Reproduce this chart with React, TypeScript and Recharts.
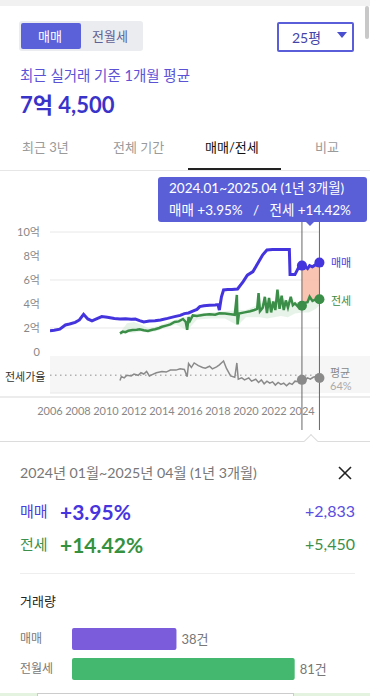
import React from 'react';
import {
  ComposedChart,
  Line,
  Area,
  XAxis,
  YAxis,
  CartesianGrid,
  ReferenceLine,
  ReferenceDot,
  BarChart,
  Bar,
  Cell,
  LabelList,
} from 'recharts';

const FONT = "Lato, 'Noto Sans CJK KR', sans-serif";

// 매매 (sale) price, 억
const saleYears = [
  2006.0, 2006.3, 2006.7, 2007.1, 2007.4, 2007.8, 2008.1, 2008.4, 2008.7, 2009.0,
  2009.4, 2009.7, 2010.1, 2010.6, 2011.0, 2011.4, 2011.8, 2012.1, 2012.4, 2012.7,
  2013.1, 2013.5, 2013.9, 2014.4, 2014.9, 2015.3, 2015.6, 2015.9, 2016.2, 2016.5,
  2016.7, 2017.0, 2017.4, 2017.8, 2018.0, 2018.1, 2018.25, 2018.4, 2018.7, 2019.0,
  2019.4, 2019.8, 2020.1, 2020.5, 2020.9, 2021.2, 2021.5, 2021.9, 2022.5, 2023.1,
  2023.15, 2023.5, 2023.85, 2024.0, 2024.2, 2024.4, 2024.55, 2024.75, 2025.0, 2025.25,
];
const saleValues = [
  1.78, 1.82, 1.9, 2.25, 2.33, 2.47, 2.67, 3.14, 2.75, 2.6,
  2.8, 2.95, 2.9, 2.8, 2.75, 2.78, 2.72, 2.75, 2.62, 2.5,
  2.58, 2.6, 2.67, 2.8, 2.95, 3.05, 3.2, 3.25, 3.4, 3.55,
  3.78, 3.85, 3.9, 3.92, 3.95, 3.5, 4.6, 5.17, 5.2, 5.2,
  5.25, 5.86, 6.4, 6.7, 7.5, 8.1, 8.5, 8.55, 8.55, 8.55,
  6.45, 6.45, 7.25, 7.2, 7.15, 6.95, 7.2, 7.1, 7.3, 7.45,
];

// 전세 (jeonse) price, 억
const rentYears = [
  2011.0, 2011.2, 2011.4, 2011.6, 2011.9, 2012.2, 2012.4, 2012.7, 2013.0, 2013.3,
  2013.5, 2013.8, 2014.0, 2014.3, 2014.6, 2014.9, 2015.2, 2015.5, 2015.7, 2015.8,
  2015.9, 2016.0, 2016.2, 2016.5, 2016.7, 2017.0, 2017.4, 2017.8, 2018.1, 2018.5,
  2018.9, 2019.2, 2019.35, 2019.4, 2019.5, 2019.9, 2020.3, 2020.6, 2020.8, 2020.9,
  2021.0, 2021.2, 2021.35, 2021.5, 2021.65, 2021.8, 2021.95, 2022.1, 2022.25, 2022.4,
  2022.55, 2022.7, 2022.85, 2023.0, 2023.2, 2023.35, 2023.5, 2023.7, 2023.85, 2024.0,
  2024.2, 2024.4, 2024.55, 2024.75, 2025.0, 2025.25,
];
const rentValues = [
  1.55, 1.7, 1.65, 1.78, 1.83, 1.85, 1.9, 1.82, 1.75, 1.85,
  1.9, 2.0, 2.1, 2.2, 2.3, 2.5, 2.55, 2.75, 2.5, 1.85,
  2.9, 2.6, 3.05, 3.0, 3.05, 3.1, 3.15, 3.1, 3.22, 3.2,
  3.15, 3.1, 4.75, 2.3, 3.2, 3.3, 3.4, 3.5, 3.6, 4.9,
  3.4, 3.7, 4.6, 3.25, 4.5, 3.3, 4.2, 3.5, 5.2, 3.6,
  4.7, 3.5, 4.3, 3.7, 4.6, 3.9, 4.05, 3.8, 3.75, 3.85,
  4.1, 4.15, 4.6, 4.25, 4.4, 4.4,
];

// light band of individual 전세 deals
const bandYears = [
  2011.0, 2011.5, 2012.0, 2012.5, 2013.0, 2013.5, 2014.0, 2015.0, 2015.8, 2016.5,
  2017.5, 2018.5, 2019.4, 2020.0, 2021.0, 2021.5, 2022.0, 2022.5, 2023.0, 2023.5,
  2024.0, 2024.5, 2025.0, 2025.25,
];
const bandLow = [
  1.4, 1.6, 1.6, 1.7, 1.6, 1.7, 1.9, 2.3, 1.8, 2.7,
  2.8, 2.8, 2.2, 2.9, 2.9, 2.8, 2.9, 3.0, 2.9, 3.2,
  3.3, 3.3, 3.6, 3.9,
];
const bandHigh = [
  1.6, 2.4, 2.5, 2.3, 2.0, 2.1, 2.3, 2.7, 3.0, 3.2,
  3.3, 3.4, 3.5, 3.5, 4.0, 4.2, 4.3, 4.6, 4.2, 4.2,
  4.1, 4.4, 4.6, 4.5,
];

// 전세가율 (%)
const ratioYears = [
  2011.0, 2011.1, 2011.3, 2011.5, 2011.8, 2012.0, 2012.3, 2012.5, 2012.7, 2012.9,
  2013.1, 2013.3, 2013.6, 2014.0, 2014.3, 2014.6, 2015.0, 2015.3, 2015.6, 2015.8,
  2015.9, 2016.1, 2016.3, 2016.6, 2016.9, 2017.1, 2017.4, 2017.6, 2017.9, 2018.1,
  2018.3, 2018.4, 2018.6, 2018.9, 2019.2, 2019.35, 2019.45, 2019.7, 2019.9, 2020.2,
  2020.4, 2020.7, 2020.9, 2021.1, 2021.3, 2021.5, 2021.7, 2021.9, 2022.1, 2022.3,
  2022.5, 2022.7, 2022.9, 2023.1, 2023.3, 2023.5, 2023.8, 2024.0, 2024.2, 2024.4,
  2024.6, 2024.8, 2025.0, 2025.25,
];
const ratioValues = [
  56, 62, 60, 64, 63, 66, 64, 68, 66, 70,
  63, 65, 68, 70, 69, 72, 72, 74, 73, 62,
  82, 76, 83, 79, 76, 75, 78, 74, 77, 80,
  84, 86, 75, 63, 61, 83, 58, 60, 57, 60,
  55, 58, 53, 57, 51, 55, 52, 54, 49, 53,
  50, 52, 48, 52, 50, 55, 54, 57, 56, 60,
  58, 61, 62, 60,
];
const ratioAverage = 64;

const yearTicks = [2006, 2008, 2010, 2012, 2014, 2016, 2018, 2020, 2022, 2024];
const priceTicks = [0, 2, 4, 6, 8, 10];
const rangeStart = 2024.0;
const rangeEnd = 2025.25;

const volumeLabels = ['매매', '전월세'];
const volumeCounts = [38, 81];
const volumeColors = ['#7b5cdb', '#45b86f'];

const SALE = '#4434de';
const RENT = '#3b8e47';
const RATIO = '#8a8a8a';

const saleData = saleYears.map((x, i) => ({ x, v: saleValues[i] }));
const rentData = rentYears.map((x, i) => ({ x, v: rentValues[i] }));
const bandData = bandYears.map((x, i) => ({ x, v: [bandLow[i], bandHigh[i]] }));
const ratioData = ratioYears.map((x, i) => ({ x, v: ratioValues[i] }));
const gapData = saleYears
  .map((x, i) => ({ x, sale: saleValues[i], rent: rentValues[rentYears.indexOf(x)] }))
  .filter((d) => d.x >= rangeStart && d.x <= rangeEnd && d.rent !== undefined)
  .map((d) => ({ x: d.x, v: [d.rent, d.sale] }));
const volumeData = volumeLabels.map((name, i) => ({ name, count: volumeCounts[i] }));

const at = (xs: number[], vs: number[], x: number) => vs[xs.indexOf(x)];

function Txt({ x, y, size, color, weight, children, right }: any) {
  return (
    <div
      style={{
        position: 'absolute',
        top: y - size / 2,
        ...(right !== undefined ? { right } : { left: x }),
        fontSize: size,
        lineHeight: `${size}px`,
        color,
        fontWeight: weight || 400,
        whiteSpace: 'pre',
        fontFamily: FONT,
      }}
    >
      {children}
    </div>
  );
}

function PriceChart() {
  return (
    <ComposedChart width={370} height={222} margin={{ top: 20, right: 50, bottom: 0, left: 0 }}>
      <CartesianGrid yAxisId="p" vertical={false} stroke="#e8e8e8" />
      <XAxis
        type="number"
        dataKey="x"
        domain={[2006, 2025.29]}
        ticks={yearTicks}
        interval={0}
        allowDataOverflow
        axisLine={false}
        tickLine={false}
        tickMargin={8}
        height={41}
        tick={{ fontSize: 11, fill: '#888', fontFamily: FONT }}
      />
      <YAxis
        yAxisId="p"
        domain={[-3.4167, 10]}
        ticks={priceTicks}
        allowDataOverflow
        axisLine={false}
        tickLine={false}
        tickMargin={4}
        width={50}
        tick={{ fontSize: 11, fill: '#888', fontFamily: FONT }}
        tickFormatter={(v: number) => (v === 0 ? '0' : `${v}억`)}
      />
      <YAxis yAxisId="r" hide domain={[36.8, 284.5]} allowDataOverflow />

      <Area yAxisId="p" data={bandData} dataKey="v" type="linear" stroke="none" fill="#cfe8d4" fillOpacity={0.5} isAnimationActive={false} />
      <Area yAxisId="p" data={gapData} dataKey="v" type="linear" stroke="none" fill="#f8bea8" fillOpacity={0.9} isAnimationActive={false} />
      <ReferenceLine yAxisId="r" y={ratioAverage} stroke="#b0b0b0" strokeWidth={1.5} strokeDasharray="1.5 3.5" />
      <Line yAxisId="r" data={ratioData} dataKey="v" type="linear" stroke={RATIO} strokeWidth={1.5} dot={false} isAnimationActive={false} />
      <Line yAxisId="p" data={rentData} dataKey="v" type="linear" stroke={RENT} strokeWidth={2.5} dot={false} isAnimationActive={false} />
      <Line yAxisId="p" data={saleData} dataKey="v" type="linear" stroke={SALE} strokeWidth={3} dot={false} isAnimationActive={false} />

      <ReferenceLine yAxisId="p" segment={[{ x: rangeStart, y: 10.92 }, { x: rangeStart, y: -6.5 }]} stroke="#666" strokeWidth={1} ifOverflow="visible" />
      <ReferenceLine yAxisId="p" segment={[{ x: rangeEnd, y: 10.92 }, { x: rangeEnd, y: -6.5 }]} stroke="#666" strokeWidth={1} ifOverflow="visible" />

      <ReferenceDot yAxisId="p" x={rangeStart} y={at(saleYears, saleValues, rangeStart)} r={5} fill={SALE} stroke="none" />
      <ReferenceDot yAxisId="p" x={rangeEnd} y={at(saleYears, saleValues, rangeEnd)} r={5} fill={SALE} stroke="none" />
      <ReferenceDot yAxisId="p" x={rangeStart} y={at(rentYears, rentValues, rangeStart)} r={5} fill={RENT} stroke="none" />
      <ReferenceDot yAxisId="p" x={rangeEnd} y={at(rentYears, rentValues, rangeEnd)} r={5} fill={RENT} stroke="none" />
      <ReferenceDot yAxisId="r" x={rangeStart} y={at(ratioYears, ratioValues, rangeStart)} r={5} fill={RATIO} stroke="none" />
      <ReferenceDot yAxisId="r" x={rangeEnd} y={at(ratioYears, ratioValues, rangeEnd)} r={5} fill={RATIO} stroke="none" />
    </ComposedChart>
  );
}

function VolumeChart() {
  return (
    <BarChart
      width={370}
      height={60}
      layout="vertical"
      data={volumeData}
      margin={{ top: 0, right: 0, bottom: 0, left: 0 }}
    >
      <XAxis type="number" hide domain={[0, 108.4]} />
      <YAxis
        type="category"
        dataKey="name"
        width={72}
        axisLine={false}
        tickLine={false}
        tick={({ y, payload }: any) => (
          <text x={20} y={y} dy={4} fontSize={12} fill="#777" fontFamily={FONT}>
            {payload.value}
          </text>
        )}
      />
      <Bar dataKey="count" barSize={22} radius={2} isAnimationActive={false}>
        {volumeData.map((d, i) => (
          <Cell key={d.name} fill={volumeColors[i]} />
        ))}
        <LabelList
          dataKey="count"
          position="right"
          offset={5}
          formatter={(v: any) => `${v}건`}
          style={{ fontSize: 13, fill: '#777', fontFamily: FONT }}
        />
      </Bar>
    </BarChart>
  );
}

export default function App() {
  return (
    <div
      style={{
        position: 'absolute',
        top: 0,
        left: 0,
        width: 370,
        height: 696,
        background: '#fff',
        overflow: 'hidden',
        fontFamily: FONT,
      }}
    >
      {/* top strip + scrollbar */}
      <div style={{ position: 'absolute', top: 0, left: 0, width: 370, height: 6, background: '#f1f1f1' }} />
      <div style={{ position: 'absolute', top: 6, left: 365, width: 4, height: 33, background: '#c8c8c8', borderRadius: 2 }} />

      {/* segmented control */}
      <div style={{ position: 'absolute', top: 21, left: 19, width: 124, height: 30, background: '#ebecf0', borderRadius: 3 }} />
      <div style={{ position: 'absolute', top: 23, left: 21, width: 60, height: 26, background: '#5b62d9', borderRadius: 2 }} />
      <Txt x={38} y={36} size={13} color="#fff">매매</Txt>
      <Txt x={92} y={36} size={13} color="#5f6296">전월세</Txt>

      {/* dropdown */}
      <div style={{ position: 'absolute', top: 22, left: 277, width: 73, height: 26, border: '2px solid #5a5fd9', borderRadius: 2 }} />
      <Txt x={292} y={38} size={14} color="#4444a8">25평</Txt>
      <div
        style={{
          position: 'absolute',
          top: 32,
          left: 337,
          width: 0,
          height: 0,
          borderLeft: '5px solid transparent',
          borderRight: '5px solid transparent',
          borderTop: '6px solid #4a4fcf',
        }}
      />

      <Txt x={20} y={76} size={14.5} color="#5b52d6">최근 실거래 기준 1개월 평균</Txt>
      <Txt x={20} y={105} size={22} color="#3a33c9" weight={700}>7억 4,500</Txt>

      {/* tabs */}
      <Txt x={22} y={147} size={13} color="#9a9a9a">최근 3년</Txt>
      <Txt x={113} y={147} size={13} color="#9a9a9a">전체 기간</Txt>
      <Txt x={205} y={147} size={13} color="#111">매매/전세</Txt>
      <Txt x={315} y={147} size={13} color="#9a9a9a">비교</Txt>
      <div style={{ position: 'absolute', top: 170, left: 0, width: 370, height: 1, background: '#e6e6e6' }} />
      <div style={{ position: 'absolute', top: 168, left: 188, width: 93, height: 2, background: '#222' }} />

      {/* ratio band background */}
      <div style={{ position: 'absolute', top: 356, left: 50, width: 320, height: 37, background: '#f6f6f6' }} />
      <div style={{ position: 'absolute', top: 396, left: 0, width: 370, height: 2, background: '#ececec' }} />

      <div style={{ position: 'absolute', top: 212, left: 0 }}>
        <PriceChart />
      </div>

      {/* series labels */}
      <Txt x={331} y={262} size={11} color="#4a3ee0">매매</Txt>
      <Txt x={331} y={300} size={11} color="#3a8a45">전세</Txt>
      <Txt x={330} y={372} size={11} color="#888">평균</Txt>
      <Txt x={330} y={385} size={11} color="#aaa">64%</Txt>
      <Txt x={5} y={376} size={11} color="#333">전세가율</Txt>

      {/* range tooltip */}
      <div
        style={{
          position: 'absolute',
          top: 177,
          left: 158,
          width: 209,
          height: 45,
          background: '#5a5fd8',
          borderRadius: 3,
        }}
      />
      <div
        style={{
          position: 'absolute',
          top: 221,
          left: 305,
          width: 0,
          height: 0,
          borderLeft: '5px solid transparent',
          borderRight: '5px solid transparent',
          borderTop: '5px solid #5a5fd8',
        }}
      />
      <Txt x={169} y={189} size={13.5} color="#fff">2024.01~2025.04 (1년 3개월)</Txt>
      <Txt x={169} y={211} size={13.5} color="#fff">{'매매 +3.95%   /   전세 +14.42%'}</Txt>

      {/* detail panel */}
      <div style={{ position: 'absolute', top: 441, left: 0, width: 370, height: 1, background: '#dcdcdc' }} />
      <div
        style={{
          position: 'absolute',
          top: 436,
          left: 306,
          width: 9,
          height: 9,
          background: '#fff',
          borderLeft: '1px solid #dcdcdc',
          borderTop: '1px solid #dcdcdc',
          transform: 'rotate(45deg)',
        }}
      />
      <Txt x={20} y={473} size={14.2} color="#777">2024년 01월~2025년 04월 (1년 3개월)</Txt>
      <svg style={{ position: 'absolute', top: 466, left: 338 }} width={14} height={14}>
        <line x1={1} y1={1} x2={13} y2={13} stroke="#222" strokeWidth={1.6} />
        <line x1={13} y1={1} x2={1} y2={13} stroke="#222" strokeWidth={1.6} />
      </svg>

      <Txt x={20} y={511} size={15} color="#4a3ee0">매매</Txt>
      <Txt x={60} y={511} size={21} color="#4634de" weight={700}>+3.95%</Txt>
      <Txt right={15} y={511} size={16} color="#5a4ee0">+2,833</Txt>
      <Txt x={20} y={544} size={15} color="#3d8f4a">전세</Txt>
      <Txt x={60} y={544} size={21} color="#36913e" weight={700}>+14.42%</Txt>
      <Txt right={15} y={544} size={16} color="#3d8f4a">+5,450</Txt>

      <div style={{ position: 'absolute', top: 573, left: 20, width: 335, height: 1, background: '#eee' }} />
      <Txt x={20} y={601} size={13} color="#222">거래량</Txt>

      <div style={{ position: 'absolute', top: 624, left: 0 }}>
        <VolumeChart />
      </div>

      {/* bottom strip */}
      <div style={{ position: 'absolute', top: 693, left: 0, width: 370, height: 3, background: '#e3f3e0' }} />
      <div style={{ position: 'absolute', top: 693, left: 37, width: 255, height: 3, background: '#fff', borderTop: '1px solid #ccc', borderLeft: '1px solid #ccc', borderRight: '1px solid #ccc' }} />
    </div>
  );
}
